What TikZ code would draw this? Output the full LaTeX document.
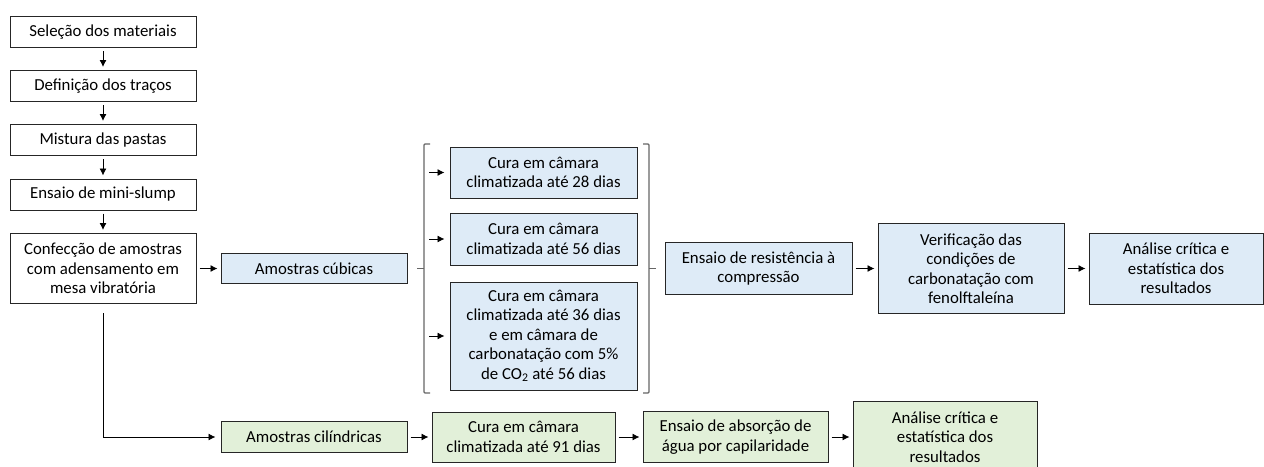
\documentclass[tikz,border=0pt]{standalone}
\usepackage{fontspec}
\setmainfont{Carlito}
\usetikzlibrary{arrows.meta}
\definecolor{azul}{HTML}{DEEBF7}
\definecolor{verde}{HTML}{E2F0D9}
\newcommand{\borda}{black!85}
\newcommand{\chave}{black!60}

\begin{document}
\begin{tikzpicture}[x=1pt,y=-1pt,
        caixa/.style={draw=\borda, line width=1pt, align=center, inner sep=0pt,
            font=\fontsize{16.8}{19.5}\selectfont},
        %caixa/.style={draw, rounded corners},
        seta/.style={-{Latex[length=7pt,width=7pt]}, line width=0.9pt, draw=black,
            shorten <=3pt, shorten >=3pt},
        chaves/.style={draw=\chave, line width=1.1pt, rounded corners=1pt}]
        \useasboundingbox (0,0) rectangle (1264,466);
        % coluna da esquerda
        \node[caixa, minimum width=186, minimum height=31] (sel) at (103,32) {Seleção dos materiais};
        \node[caixa, minimum width=186, minimum height=31] (def) at (103,86) {Definição dos traços};
        \node[caixa, minimum width=186, minimum height=31] (mis) at (103,140) {Mistura das pastas};
        \node[caixa, minimum width=186, minimum height=31] (min) at (103,194.5) {Ensaio de mini-slump};
        \node[caixa, minimum width=186, minimum height=70] (conf) at (103,268.5)
            {Confecção de amostras\\com adensamento em\\mesa vibratória};
        \draw[seta] (sel) -- (def);
        \draw[seta] (def) -- (mis);
        \draw[seta] (mis) -- (min);
        \draw[seta] (min) -- (conf);
        % amostras cubicas
        \node[caixa, fill=azul, minimum width=186, minimum height=30] (cub) at (314,268.5) {Amostras cúbicas};
        \node[caixa, fill=azul, minimum width=187, minimum height=51] (c28) at (543.5,172.5)
            {Cura em câmara\\climatizada até 28 dias};
        \node[caixa, fill=azul, minimum width=187, minimum height=52] (c56) at (543.5,239)
            {Cura em câmara\\climatizada até 56 dias};
        \node[caixa, fill=azul, minimum width=187, minimum height=108] (c36) at (543.5,336)
            {Cura em câmara\\climatizada até 36 dias\\e em câmara de\\carbonatação com 5\%\\de CO\textsubscript{2} até 56 dias};
        \node[caixa, fill=azul, minimum width=187, minimum height=52] (res) at (758.5,268.5)
            {Ensaio de resistência à\\compressão};
        \node[caixa, fill=azul, minimum width=186, minimum height=90] (ver) at (971,268.5)
            {Verificação das\\condições de\\carbonatação com\\fenolftaleína};
        \node[caixa, fill=azul, minimum width=174, minimum height=71] (ana) at (1176,268.5)
            {Análise crítica e\\estatística dos\\resultados};
        \draw[seta] (conf) -- (cub);
        \draw[chaves] (430,144) -- (424,144) -- (424,393) -- (430,393);
        \draw[chaves] (424,268.5) -- (417,268.5);
        \draw[chaves] (643,144) -- (649,144) -- (649,393) -- (643,393);
        \draw[chaves] (649,268.5) -- (656,268.5);
        \coordinate (e28) at (429,172.5);
        \coordinate (e56) at (429,239);
        \coordinate (e36) at (429,336);
        \draw[seta, shorten <=0pt, shorten >=5pt] (e28) -- (c28);
        \draw[seta, shorten <=0pt, shorten >=5pt] (e56) -- (c56);
        \draw[seta, shorten <=0pt, shorten >=5pt] (e36) -- (c36);
        \draw[seta] (res) -- (ver);
        \draw[seta] (ver) -- (ana);
        % amostras cilindricas
        \node[caixa, fill=verde, minimum width=186, minimum height=31] (cil) at (314,437) {Amostras cilíndricas};
        \node[caixa, fill=verde, minimum width=183, minimum height=50] (c91) at (523.5,437)
            {Cura em câmara\\climatizada até 91 dias};
        \node[caixa, fill=verde, minimum width=185, minimum height=51] (abs) at (735.5,437)
            {Ensaio de absorção de\\água por capilaridade};
        \node[caixa, fill=verde, minimum width=184, minimum height=71] (ana2) at (945,437)
            {Análise crítica e\\estatística dos\\resultados};
        \coordinate (desce) at (103,313);
        \draw[seta, shorten <=0pt, shorten >=5pt] (desce) |- (cil);
        \draw[seta] (cil) -- (c91);
        \draw[seta] (c91) -- (abs);
        \draw[seta] (abs) -- (ana2);
    \end{tikzpicture}
\end{document}
